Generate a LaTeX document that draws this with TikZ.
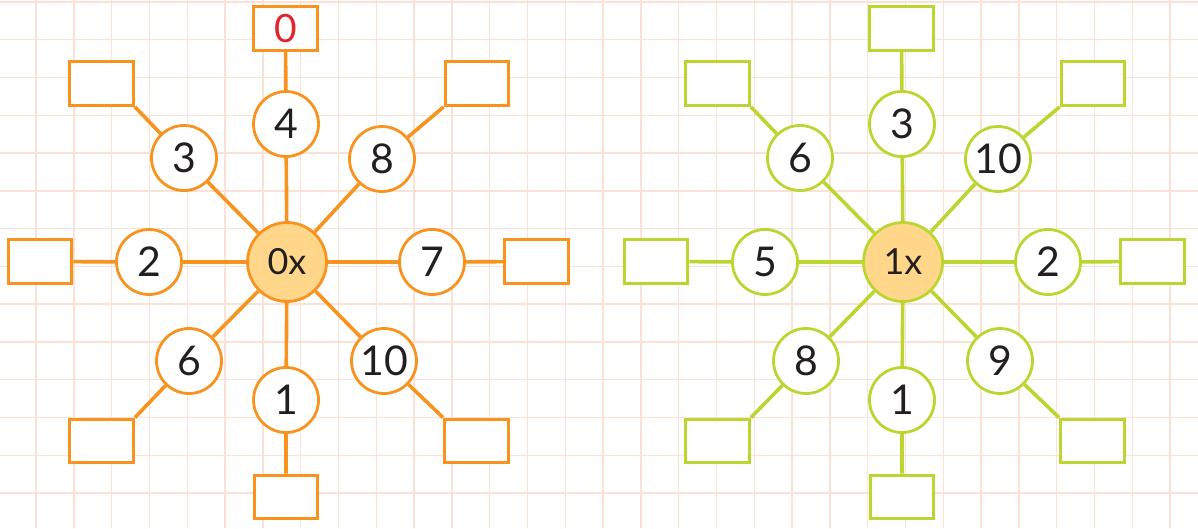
\documentclass[tikz,border=0pt]{standalone}
\usepackage{fontspec}
\setmainfont{Lato}
\definecolor{gridc}{HTML}{FCE1D6}
\definecolor{org}{HTML}{F7931E}
\definecolor{grn}{HTML}{BCD631}
\definecolor{ctrfill}{HTML}{FFD68A}
\definecolor{redt}{HTML}{E2242B}
\definecolor{ink}{HTML}{231F20}
\tikzset{
  num/.style={circle, draw, line width=2.8pt, fill=white, minimum size=65pt, inner sep=0pt,
    font=\fontsize{41}{43}\selectfont, text=ink},
  hub/.style={num, minimum size=79pt, fill=ctrfill, font=\fontsize{36}{38}\selectfont},
  ansbox/.style={rectangle, draw, line width=3.4pt, fill=white, minimum width=63.5pt,
    minimum height=43.5pt, inner sep=0pt, font=\fontsize{39}{41}\selectfont, text=redt},
  spoke/.style={line width=3.6pt},
  gridline/.style={gridc, line width=1.4pt}
}
\begin{document}
\begin{tikzpicture}[x=1pt,y=-1pt]
\useasboundingbox (0,0) rectangle (1198,528);
\fill[white] (0,0) rectangle (1198,528);
\foreach \k in {-1,...,31} {\draw[gridline] ({36+37.8*\k},0) -- ({36+37.8*\k},528);}
\foreach \k in {0,...,13} {\draw[gridline] (0,{2+37.77*\k}) -- (1198,{2+37.77*\k});}

% ---------- left star (0x) ----------
\begin{scope}[org]
\node[hub] (Lh) at (287,262) {0x};
\node[num] (Ln) at (286,124) {4};
\node[num] (Lnw) at (184,158) {3};
\node[num] (Lne) at (382,159) {8};
\node[num] (Lw) at (149,262) {2};
\node[num] (Le) at (432,262) {7};
\node[num] (Lsw) at (189,361) {6};
\node[num] (Ls) at (286,400) {1};
\node[num] (Lse) at (384,361) {10};
\node[ansbox] (LBn) at (285.5,28.5) {0};
\node[ansbox] (LBnw) at (101.5,83.5) {};
\node[ansbox] (LBne) at (477,83.5) {};
\node[ansbox] (LBw) at (40,261.5) {};
\node[ansbox] (LBe) at (536.5,261.5) {};
\node[ansbox] (LBsw) at (101.5,441) {};
\node[ansbox] (LBs) at (286,497) {};
\node[ansbox] (LBse) at (476.5,441) {};
\draw[spoke] (Lh) -- (Ln) (Ln) -- (LBn);
\draw[spoke] (Lh) -- (Lnw) (Lnw) -- (LBnw.south east);
\draw[spoke] (Lh) -- (Lne) (Lne) -- (LBne.south west);
\draw[spoke] (Lh) -- (Lw) (Lw) -- (LBw);
\draw[spoke] (Lh) -- (Le) (Le) -- (LBe);
\draw[spoke] (Lh) -- (Lsw) (Lsw) -- (LBsw.north east);
\draw[spoke] (Lh) -- (Ls) (Ls) -- (LBs);
\draw[spoke] (Lh) -- (Lse) (Lse) -- (LBse.north west);
\end{scope}

% ---------- right star (1x) ----------
\begin{scope}[grn]
\node[hub] (Rh) at (903,262) {1x};
\node[num] (Rn) at (902,124) {3};
\node[num] (Rnw) at (800,158) {6};
\node[num] (Rne) at (998,159) {10};
\node[num] (Rw) at (765,262) {5};
\node[num] (Re) at (1048,262) {2};
\node[num] (Rsw) at (806,361) {8};
\node[num] (Rs) at (902,400) {1};
\node[num] (Rse) at (1000,361) {9};
\node[ansbox] (RBn) at (901.5,28.5) {};
\node[ansbox] (RBnw) at (717.5,83.5) {};
\node[ansbox] (RBne) at (1093,83.5) {};
\node[ansbox] (RBw) at (656,261.5) {};
\node[ansbox] (RBe) at (1152.5,261.5) {};
\node[ansbox] (RBsw) at (717.5,441) {};
\node[ansbox] (RBs) at (902,497) {};
\node[ansbox] (RBse) at (1092.5,441) {};
\draw[spoke] (Rh) -- (Rn) (Rn) -- (RBn);
\draw[spoke] (Rh) -- (Rnw) (Rnw) -- (RBnw.south east);
\draw[spoke] (Rh) -- (Rne) (Rne) -- (RBne.south west);
\draw[spoke] (Rh) -- (Rw) (Rw) -- (RBw);
\draw[spoke] (Rh) -- (Re) (Re) -- (RBe);
\draw[spoke] (Rh) -- (Rsw) (Rsw) -- (RBsw.north east);
\draw[spoke] (Rh) -- (Rs) (Rs) -- (RBs);
\draw[spoke] (Rh) -- (Rse) (Rse) -- (RBse.north west);
\end{scope}
\end{tikzpicture}
\end{document}
